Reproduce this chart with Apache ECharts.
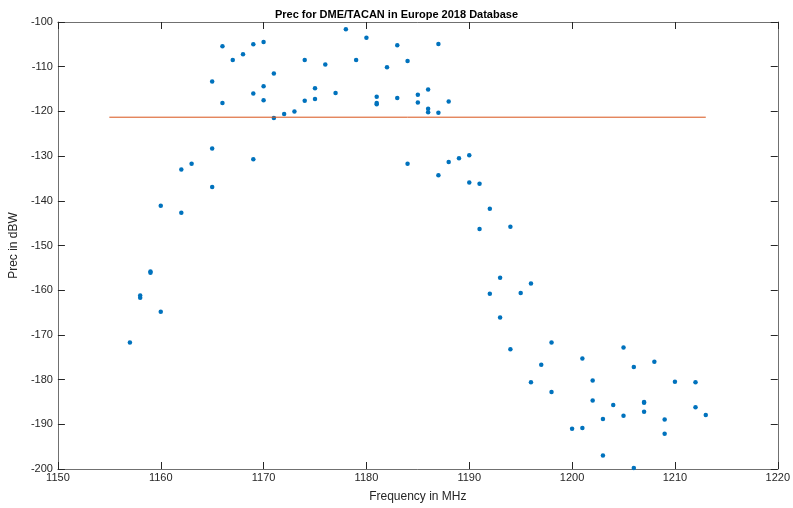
<!DOCTYPE html>
<html><head><meta charset="utf-8">
<script src="https://cdn.jsdelivr.net/npm/echarts@6/dist/echarts.min.js"></script>
<style>html,body{margin:0;padding:0;background:#fff}#c{width:793px;height:508px}</style>
</head><body><div id="c"></div>
<script>
const freqMHz = [1157,1158,1158,1159,1159,1160,1160,1162,1162,1163,1165,1165,1165,1166,1166,1167,1168,1169,1169,1169,1170,1170,1170,1171,1171,1172,1173,1174,1174,1175,1175,1176,1177,1178,1179,1180,1181,1181,1181,1182,1183,1183,1184,1184,1185,1185,1186,1186,1186,1187,1187,1187,1188,1188,1189,1190,1190,1191,1191,1192,1192,1193,1193,1194,1194,1195,1196,1196,1197,1198,1198,1200,1201,1201,1202,1202,1203,1203,1204,1205,1205,1206,1206,1207,1207,1207,1208,1209,1209,1210,1212,1212,1213];
const precDBW = [-171.7,-161.2,-161.7,-155.8,-156.1,-141.1,-164.8,-133.0,-142.7,-131.7,-113.3,-128.3,-136.9,-105.4,-118.1,-108.5,-107.2,-105.0,-116.0,-130.7,-104.5,-114.4,-117.5,-111.5,-121.5,-120.6,-120.0,-108.5,-117.6,-114.8,-117.2,-109.5,-115.9,-101.6,-108.5,-103.5,-116.7,-118.1,-118.4,-110.1,-105.2,-117.0,-108.7,-131.7,-116.3,-118.0,-115.1,-119.4,-120.2,-104.9,-120.3,-134.3,-117.8,-131.3,-130.5,-129.8,-135.9,-136.2,-146.3,-141.8,-160.8,-157.2,-166.1,-145.8,-173.2,-160.6,-158.5,-180.6,-176.7,-171.7,-182.8,-191.0,-175.3,-190.8,-180.2,-184.7,-188.8,-197.0,-185.7,-172.8,-188.1,-177.2,-199.8,-185.0,-185.2,-187.2,-176.0,-188.9,-192.1,-180.5,-180.6,-186.2,-187.9];
const thresholdX = [1155, 1213];
const thresholdY = [-121.3, -121.3];

const axisColor = '#262626';
const lineColor = '#707070';
const font = 'Liberation Sans, Arial, sans-serif';
const chart = echarts.init(document.getElementById('c'));
const xCommon = {type:'value', min:1150, max:1220, interval:10,
  axisLine:{show:true, onZero:false, lineStyle:{color:lineColor, width:1}},
  axisTick:{show:true, inside:true, length:7, lineStyle:{color:axisColor}},
  splitLine:{show:false}};
const yCommon = {type:'value', min:-200, max:-100, interval:10,
  axisLine:{show:true, onZero:false, lineStyle:{color:lineColor, width:1}},
  axisTick:{show:true, inside:true, length:7, lineStyle:{color:axisColor}},
  splitLine:{show:false}};
chart.setOption({
  animation:false,
  backgroundColor:'#fff',
  title:{text:'Prec for DME/TACAN in Europe 2018 Database', left:'center', top:4,
    textStyle:{fontFamily:font, fontSize:11, fontWeight:'bold', color:'#000'}},
  grid:{left:54, right:10, top:22, bottom:34, containLabel:false},
  xAxis:[
    Object.assign({}, xCommon, {position:'bottom', name:'Frequency in MHz', nameLocation:'middle', nameGap:22,
      nameTextStyle:{fontFamily:font, fontSize:12, color:axisColor},
      axisLabel:{fontFamily:font, fontSize:11, color:axisColor, margin:3, showMaxLabel:true,
        formatter:(v)=>String(v)}}),
    Object.assign({}, xCommon, {position:'top', axisLabel:{show:false}})
  ],
  yAxis:[
    Object.assign({}, yCommon, {position:'left', name:'Prec in dBW', nameLocation:'middle', nameGap:27,
      nameTextStyle:{fontFamily:font, fontSize:12, color:axisColor},
      axisLabel:{fontFamily:font, fontSize:11, color:axisColor, margin:5, formatter:(v)=>String(v)}}),
    Object.assign({}, yCommon, {position:'right', axisLabel:{show:false}})
  ],
  series:[
    {type:'scatter', xAxisIndex:0, yAxisIndex:0, symbol:'circle', symbolSize:4.5,
      itemStyle:{color:'#0072BD', opacity:1},
      data: freqMHz.map((f,i)=>[f, precDBW[i]])},
    {type:'line', xAxisIndex:0, yAxisIndex:0, symbol:'none', silent:true,
      lineStyle:{color:'#D95319', width:1},
      data: thresholdX.map((x,i)=>[x, thresholdY[i]])}
  ]
});
</script></body></html>
